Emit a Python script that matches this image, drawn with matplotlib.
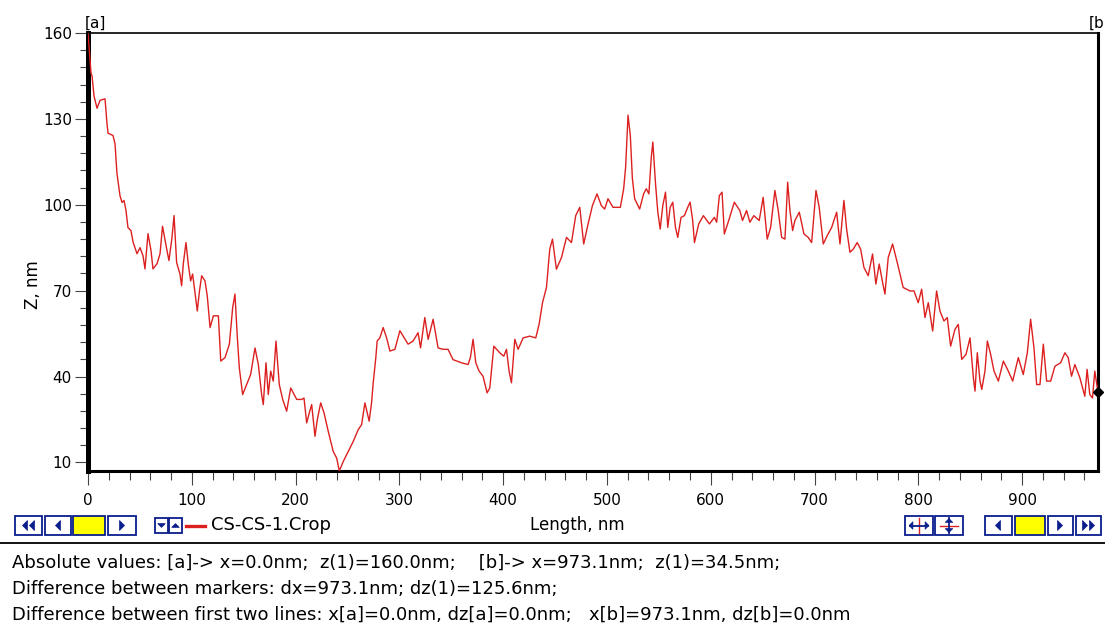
import matplotlib
matplotlib.use("Agg")
import matplotlib.pyplot as plt
from matplotlib.patches import Rectangle, Polygon
import numpy as np

plt.rcParams["font.family"] = ["DejaVu Sans"]

# profile: length along the cut (nm) and height (nm)
length_nm = [
    0.0, 1.0, 1.9, 2.9, 3.9, 5.8, 8.7, 11.6, 16.4, 18.3, 19.3, 24.1, 26.0, 27.9,
    30.8, 32.8, 34.7, 36.6, 38.5, 41.4, 43.4, 47.2, 50.1, 53.0, 54.9, 57.8, 60.7,
    62.6, 66.5, 69.4, 71.8, 76.1, 78.0, 80.9, 82.9, 85.4, 88.6, 90.2, 91.8, 94.4,
    96.6, 98.9, 100.8, 103.1, 105.3, 107.2, 109.5, 112.7, 114.9, 117.6, 120.8,
    125.6, 127.9, 132.0, 136.2, 139.4, 141.6, 143.9, 145.8, 149.0, 152.9, 156.7,
    160.9, 164.1, 167.3, 168.9, 171.5, 173.7, 176.0, 178.5, 181.1, 184.3, 187.6,
    191.4, 195.3, 197.8, 201.1, 205.9, 208.1, 210.7, 213.2, 215.5, 218.7, 220.9,
    224.2, 227.4, 231.5, 236.3, 239.6, 242.1, 245.9, 250.7, 255.5, 260.3, 263.6,
    266.8, 269.0, 270.9, 273.2, 274.8, 277.3, 278.6, 281.2, 284.4, 287.7, 290.9,
    295.7, 300.5, 308.4, 313.2, 318.0, 320.4, 324.5, 327.7, 332.5, 337.3, 342.1,
    346.9, 351.7, 359.8, 366.2, 368.4, 371.0, 373.6, 376.8, 380.6, 384.5, 387.1,
    391.0, 396.7, 400.6, 403.2, 405.7, 408.0, 411.2, 414.4, 419.2, 425.6, 431.4,
    434.6, 437.9, 441.7, 444.9, 447.5, 451.3, 456.2, 461.0, 465.8, 469.9, 473.8,
    477.6, 481.8, 486.0, 490.4, 494.6, 497.8, 501.0, 505.8, 512.9, 516.1, 518.0,
    520.3, 522.5, 524.5, 526.7, 531.5, 535.3, 537.9, 540.4, 542.7, 544.2, 546.8,
    549.0, 551.3, 553.8, 556.4, 558.6, 560.9, 563.4, 566.0, 568.2, 571.4, 574.6,
    577.8, 580.1, 582.6, 584.3, 588.4, 592.9, 598.7, 603.5, 605.7, 608.3, 610.9,
    613.1, 617.3, 622.7, 628.0, 630.6, 634.5, 637.7, 641.5, 646.7, 650.5, 654.4,
    657.7, 661.8, 665.0, 668.3, 671.5, 674.1, 676.3, 678.9, 681.1, 685.3, 689.8,
    693.9, 697.2, 701.4, 704.5, 708.4, 712.2, 716.5, 721.3, 724.5, 728.3, 730.9,
    734.1, 737.3, 741.1, 744.4, 747.6, 751.7, 755.9, 759.1, 762.3, 765.6, 767.8,
    771.0, 775.2, 779.7, 785.4, 791.9, 795.8, 799.9, 803.2, 806.4, 809.6, 813.8,
    817.6, 820.8, 824.7, 827.9, 831.1, 835.3, 838.5, 841.8, 845.9, 849.8, 853.0,
    854.6, 856.8, 859.4, 861.1, 864.2, 866.5, 869.7, 872.9, 877.1, 881.9, 886.7,
    890.9, 896.3, 901.1, 905.0, 908.2, 911.4, 914.0, 917.2, 920.4, 923.6, 927.5,
    931.6, 937.1, 941.2, 944.4, 947.6, 950.8, 955.6, 960.4, 962.6, 965.2, 967.8,
    970.0, 973.1,
]
z_nm = [
    160.0, 155.0, 150.0, 146.0, 145.0, 138.0, 133.7, 136.5, 137.0, 128.4, 125.0,
    124.2, 121.4, 111.0, 103.2, 100.8, 101.5, 98.0, 92.0, 91.0, 87.0, 82.9, 85.0,
    82.2, 77.6, 89.9, 84.0, 77.6, 79.4, 82.9, 92.5, 84.0, 80.5, 88.5, 96.2, 79.8,
    75.8, 71.7, 79.3, 86.8, 79.3, 73.4, 75.8, 69.3, 62.9, 69.3, 75.2, 73.4, 68.2,
    57.1, 61.2, 61.2, 45.4, 46.6, 51.3, 64.1, 68.8, 53.5, 43.0, 33.7, 37.2, 40.7,
    50.0, 44.2, 33.7, 30.2, 44.8, 33.7, 41.9, 38.4, 52.4, 37.2, 32.0, 27.9, 36.0,
    34.3, 32.0, 32.0, 32.5, 23.8, 27.3, 30.2, 19.1, 24.9, 30.8, 27.3, 20.8, 13.8,
    11.5, 7.0, 10.3, 13.8, 17.3, 21.4, 23.2, 30.8, 27.3, 24.4, 30.8, 37.8, 46.6,
    52.4, 53.5, 57.1, 53.5, 48.9, 49.5, 56.0, 51.3, 52.4, 55.3, 50.0, 60.6, 53.0,
    60.0, 50.0, 49.5, 49.5, 45.9, 44.8, 44.2, 46.6, 53.0, 44.8, 41.9, 40.1, 34.3,
    36.0, 50.6, 48.3, 47.1, 49.5, 41.9, 37.8, 53.0, 49.5, 53.5, 54.1, 53.5, 58.2,
    65.8, 71.1, 84.5, 88.0, 77.5, 81.6, 88.6, 86.8, 96.2, 99.1, 86.3, 93.3, 99.7,
    103.8, 99.7, 98.5, 102.1, 99.1, 99.1, 105.6, 113.2, 131.3, 124.2, 109.1, 102.1,
    98.5, 103.8, 105.6, 103.8, 116.6, 121.9, 107.3, 97.4, 91.5, 99.7, 104.4, 92.1,
    99.1, 100.9, 92.1, 88.6, 95.6, 96.2, 99.1, 100.9, 94.5, 86.8, 93.3, 96.2, 93.3,
    95.6, 93.9, 103.2, 104.4, 89.8, 94.5, 100.9, 98.0, 94.5, 98.0, 93.9, 96.2, 94.5,
    102.6, 88.0, 92.1, 105.0, 98.0, 88.6, 88.0, 107.9, 98.0, 91.0, 94.5, 97.4, 89.8,
    88.6, 86.8, 105.0, 99.1, 86.3, 89.2, 92.1, 97.4, 86.3, 101.5, 91.5, 83.4, 84.5,
    86.8, 84.5, 78.1, 75.2, 82.8, 72.3, 79.3, 72.8, 68.8, 81.6, 86.3, 79.8, 71.1,
    69.9, 69.9, 65.8, 70.5, 60.6, 65.8, 55.9, 69.9, 62.9, 59.4, 60.6, 50.6, 56.5,
    58.2, 46.0, 47.7, 53.5, 39.6, 34.9, 48.3, 38.4, 35.5, 41.9, 52.4, 47.7, 41.9,
    38.4, 45.4, 41.9, 38.4, 46.6, 40.7, 48.3, 60.0, 50.0, 37.2, 37.2, 51.3, 38.4,
    38.4, 43.6, 44.8, 48.3, 46.6, 40.1, 44.2, 39.6, 33.1, 42.5, 33.7, 32.5, 41.9,
    34.5,
]
x_ticks = [0, 100, 200, 300, 400, 500, 600, 700, 800, 900]
y_ticks = [10, 40, 70, 100, 130, 160]

status_lines = [
    "Absolute values: [a]-> x=0.0nm;  z(1)=160.0nm;    [b]-> x=973.1nm;  z(1)=34.5nm;",
    "Difference between markers: dx=973.1nm; dz(1)=125.6nm;",
    "Difference between first two lines: x[a]=0.0nm, dz[a]=0.0nm;   x[b]=973.1nm, dz[b]=0.0nm",
]

W, H = 1105, 628
NAVY = "#0A1E8C"
RED = "#DC2020"
fig = plt.figure(figsize=(W / 100, H / 100), dpi=100)
ax = fig.add_axes([88 / W, 1 - 471 / H, 1010 / W, 438 / H])

ax.plot(length_nm, z_nm, color=RED, linewidth=1.0, zorder=3)
ax.plot([length_nm[-1]], [z_nm[-1]], marker="D", color="black",
        markersize=5, clip_on=False, zorder=5)

ax.set_xlim(0, 973.1)
ax.set_ylim(7.0, 160.0)
ax.set_xticks(x_ticks)
ax.set_xticks(np.arange(0, 973, 20), minor=True)
ax.set_yticks(y_ticks)
ax.set_yticks(np.arange(10, 161, 6), minor=True)
ax.tick_params(axis="y", which="major", direction="out", length=9.4, width=0.8,
               pad=2.2, labelsize=11, color="#444444")
ax.tick_params(axis="y", which="minor", direction="out", length=5.8, width=0.8,
               color="#444444")
ax.tick_params(axis="x", which="major", direction="out", length=10, width=0.8,
               pad=5.5, labelsize=11, color="#444444")
ax.tick_params(axis="x", which="minor", direction="out", length=6.5, width=0.8,
               color="#444444")

ax.spines["left"].set_linewidth(3.6)
ax.spines["bottom"].set_linewidth(2.2)
ax.spines["right"].set_linewidth(2.2)
ax.spines["top"].set_linewidth(1.2)

# ------------------------------------------------------ overlay in pixel units
ov = fig.add_axes([0, 0, 1, 1], zorder=10)
ov.set_xlim(0, W)
ov.set_ylim(H, 0)
ov.axis("off")
ov.patch.set_visible(False)

ov.text(85, 31, "[a]", fontsize=11, ha="left", va="bottom")
ov.text(1089, 31, "[b]", fontsize=11, ha="left", va="bottom")
ov.text(33, 285, "Z, nm", fontsize=12, rotation=90, ha="center", va="center")


def button(x0, x1, fill="white", y0=516, y1=535):
    ov.add_patch(Rectangle((x0, y0), x1 - x0, y1 - y0, facecolor=fill,
                           edgecolor=NAVY, linewidth=1.3))


def triangle(cx, cy, direction, size=5):
    if direction == "left":
        pts = [(cx - size / 2, cy), (cx + size / 2, cy - size), (cx + size / 2, cy + size)]
    elif direction == "right":
        pts = [(cx + size / 2, cy), (cx - size / 2, cy - size), (cx - size / 2, cy + size)]
    elif direction == "up":
        pts = [(cx, cy - size / 2), (cx - size, cy + size / 2), (cx + size, cy + size / 2)]
    else:
        pts = [(cx, cy + size / 2), (cx - size, cy - size / 2), (cx + size, cy - size / 2)]
    ov.add_patch(Polygon(pts, closed=True, facecolor=NAVY, edgecolor=NAVY, linewidth=0.5))


row_y = 525.5
# left navigation group
button(15, 42)
triangle(25, row_y, "left", 5)
triangle(32, row_y, "left", 5)
button(45, 71)
triangle(58, row_y, "left", 5)
button(73, 105, fill="#FFFF00")
button(108, 136)
triangle(122, row_y, "right", 5)

# legend entry
button(155, 168, y0=518, y1=533)
triangle(161.5, row_y, "down", 3.8)
button(169, 182, y0=518, y1=533)
triangle(175.5, row_y, "up", 3.8)
ov.plot([186, 205], [row_y, row_y], color=RED, linewidth=2.4)
ov.text(211, row_y, "CS-CS-1.Crop", fontsize=13, ha="left", va="center")
ov.text(577, row_y, "Length, nm", fontsize=12, ha="center", va="center")

# right-hand buttons
button(905, 933)
ov.plot([919, 919], [518, 533], color=RED, linewidth=1.0)
ov.plot([910, 928], [row_y, row_y], color=NAVY, linewidth=1.3)
triangle(911, row_y, "left", 3.8)
triangle(927, row_y, "right", 3.8)
button(935, 963)
ov.plot([940, 958], [row_y, row_y], color=RED, linewidth=1.0)
ov.plot([949, 949], [518, 533], color=NAVY, linewidth=1.3)
triangle(949, 520.5, "up", 3.8)
triangle(949, 530.5, "down", 3.8)

button(985, 1012)
triangle(998, row_y, "left", 5)
button(1015, 1045, fill="#FFFF00")
button(1048, 1073)
triangle(1060, row_y, "right", 5)
button(1076, 1101)
triangle(1085, row_y, "right", 5)
triangle(1092, row_y, "right", 5)

# separator and status text
ov.plot([0, W], [543, 543], color="black", linewidth=1.3)
for i, line in enumerate(status_lines):
    ov.text(12, 563 + 26 * i, line, fontsize=13, ha="left", va="center")

fig.savefig("out.png", dpi=100)
